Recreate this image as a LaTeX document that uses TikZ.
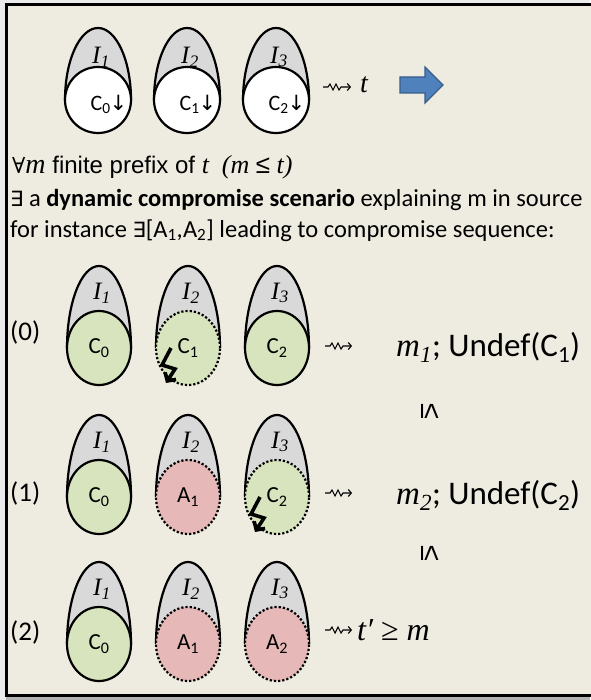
\documentclass[tikz,border=0pt]{standalone}
\usepackage{fontspec}
\setmainfont{Carlito}
\newfontfamily\tnr{Liberation Serif}
\newfontfamily\arl{Liberation Sans}
\newfontfamily\dvs{DejaVu Sans}
\newfontfamily\dvserif{DejaVu Serif}
\usetikzlibrary{shapes.geometric,arrows.meta}
\definecolor{bg}{HTML}{EEEBE0}
\definecolor{eggGray}{HTML}{D9D9D9}
\definecolor{cGreen}{HTML}{D7E4BD}
\definecolor{cPink}{HTML}{E6B9B8}
\definecolor{aBlue}{HTML}{4F81BD}
\definecolor{aBlueD}{HTML}{385D8A}
\newcommand{\Shell}[4]{% x, y, rx, top height
  \filldraw[shell] (#1-#3,#2) arc[start angle=180,end angle=360,x radius=#3,y radius=#4];}
\newcommand{\Wavy}[2]{% start coordinate name, end coordinate name
  \draw[wavy] (#1) -- ++(5,0) -- ++(2,-3) -- ++(3,6) -- ++(3,-6) -- ++(3,6) -- ++(2,-3) -- (#2);}
\newcommand{\Bolt}[2]{% circle centre x, y
  \draw[bolt] (#1-17,#2) -- (#1-26,#2+17) -- (#1-13,#2+21) -- (#1-22,#2+35);}
\tikzset{
  shell/.style={fill=eggGray, draw=black, line width=2.2pt},
  cell/.style={ellipse, draw=black, line width=2.2pt, inner sep=0pt, font=\fontsize{23}{23}\selectfont},
  solidc/.style={solid},
  dotc/.style={dash pattern=on 2.2pt off 2pt},
  ilab/.style={font=\tnr\itshape\fontsize{25}{25}\selectfont, inner sep=0pt},
  wavy/.style={line width=1.1pt, -{Straight Barb[length=3pt,width=7pt]}},
  bolt/.style={line width=3.6pt, -{Straight Barb[length=6pt,width=13pt]}},
  txt/.style={font=\fontsize{24.5}{24.5}\selectfont, inner sep=0pt},
  big/.style={font=\fontsize{27}{27}\selectfont, inner sep=0pt},
  bigger/.style={font=\fontsize{33}{33}\selectfont, inner sep=0pt},
  rle/.style={font=\arl\fontsize{29}{29}\selectfont, inner sep=0pt, rotate=-90},
}
\begin{document}
\begin{tikzpicture}[x=1pt,y=-1pt]
\useasboundingbox (0,0) rectangle (590,700);
\fill[white!92!black] (0,0) rectangle (590,700);
\fill[black!30] (6,697) rectangle (590,700);
\filldraw[fill=bg, draw=black, line width=3pt] (6,5) rectangle (600,695);

% ---- top row ----
\foreach \cx/\k/\c in {98/1/0, 187/2/1, 276/3/2}{
  \Shell{\cx}{100}{33}{72}
  \node[cell, fill=white, minimum width=66, minimum height=66] (t\k) at (\cx,100) {};
  \node[ilab] (ti\k) at (\cx+3,57) {I\textsubscript{\k}};
  \node[font=\fontsize{22}{22}\selectfont, inner sep=0pt] (tc\k) at (\cx+11,104) {C\textsubscript{\c}\kern-1pt{\dvs\fontsize{21}{21}\selectfont ↓}};
}
\coordinate (w0s) at (323,87);
\coordinate (w0e) at (351,87);
\Wavy{w0s}{w0e}
\node[font=\tnr\itshape\fontsize{28}{28}\selectfont, inner sep=0pt] (tt) at (364,85) {t};
\filldraw[fill=aBlue, draw=aBlueD, line width=1.2pt] (400,77) -- (425,77) -- (425,67) -- (443,85) -- (425,103) -- (425,93) -- (400,93) -- cycle;

% ---- text ----
\node[inner sep=0pt, anchor=base west, font=\arl\fontsize{24}{24}\selectfont] (l1) at (12,174) {{\dvserif\fontsize{22}{22}\selectfont ∀}{\tnr\itshape\fontsize{28}{28}\selectfont m} finite prefix of {\tnr\itshape\fontsize{26}{26}\selectfont t\ \ (m {\arl ≤} t)}};
\node[txt, anchor=base west] (l2) at (10,207) {{\dvs\fontsize{21}{21}\selectfont ∃} a \textbf{dynamic compromise scenario} explaining m in source};
\node[txt, anchor=base west] (l3) at (10,237) {for instance {\dvs\fontsize{21}{21}\selectfont ∃}[A\textsubscript{1},A\textsubscript{2}] leading to compromise sequence:};

% ---- row (0) ----
\node[big, anchor=base west] (n0) at (10,340) {(0)};
\foreach \cx in {99,188,277}{\Shell{\cx}{348}{32}{82}}
\node[cell, solidc, fill=cGreen, minimum width=64, minimum height=74] (a0) at (99,348) {C\textsubscript{0}};
\node[cell, dotc, fill=cGreen, minimum width=64, minimum height=74] (b0) at (188,348) {C\textsubscript{1}};
\node[cell, solidc, fill=cGreen, minimum width=64, minimum height=74] (c0) at (277,348) {C\textsubscript{2}};
\foreach \cx/\k in {99/1,188/2,277/3}{\node[ilab] (i0\k) at (\cx+3,293) {I\textsubscript{\k}};}
\Bolt{188}{348}
\coordinate (w1s) at (325,346);
\coordinate (w1e) at (352,346);
\Wavy{w1s}{w1e}
\node[bigger, anchor=base west] (m1) at (396,356) {{\tnr\itshape m\textsubscript{1}}; Undef(C\textsubscript{1})};
\node[rle] (le1) at (430,411) {≤};

% ---- row (1) ----
\node[big, anchor=base west] (n1) at (10,501) {(1)};
\foreach \cx in {99,188,277}{\Shell{\cx}{497}{32}{82}}
\node[cell, solidc, fill=cGreen, minimum width=64, minimum height=74] (a1) at (99,497) {C\textsubscript{0}};
\node[cell, dotc, fill=cPink, minimum width=64, minimum height=74] (b1) at (188,497) {A\textsubscript{1}};
\node[cell, dotc, fill=cGreen, minimum width=64, minimum height=74] (c1) at (277,497) {C\textsubscript{2}};
\foreach \cx/\k in {99/1,188/2,277/3}{\node[ilab] (i1\k) at (\cx+3,442) {I\textsubscript{\k}};}
\Bolt{277}{497}
\coordinate (w2s) at (325,493);
\coordinate (w2e) at (352,493);
\Wavy{w2s}{w2e}
\node[bigger, anchor=base west] (m2) at (396,504) {{\tnr\itshape m\textsubscript{2}}; Undef(C\textsubscript{2})};
\node[rle] (le2) at (430,553) {≤};

% ---- row (2) ----
\node[big, anchor=base west] (n2) at (10,640) {(2)};
\foreach \cx in {99,188,277}{\Shell{\cx}{644}{32}{82}}
\node[cell, solidc, fill=cGreen, minimum width=64, minimum height=74] (a2) at (99,644) {C\textsubscript{0}};
\node[cell, dotc, fill=cPink, minimum width=64, minimum height=74] (b2) at (188,644) {A\textsubscript{1}};
\node[cell, dotc, fill=cPink, minimum width=64, minimum height=74] (c2) at (277,644) {A\textsubscript{2}};
\foreach \cx/\k in {99/1,188/2,277/3}{\node[ilab] (i2\k) at (\cx+3,589) {I\textsubscript{\k}};}
\coordinate (w3s) at (325,630);
\coordinate (w3e) at (352,630);
\Wavy{w3s}{w3e}
\node[font=\tnr\itshape\fontsize{32}{32}\selectfont, inner sep=0pt, anchor=base west] (tp) at (357,640) {t′ {\upshape ≥} m};
\end{tikzpicture}
\end{document}
